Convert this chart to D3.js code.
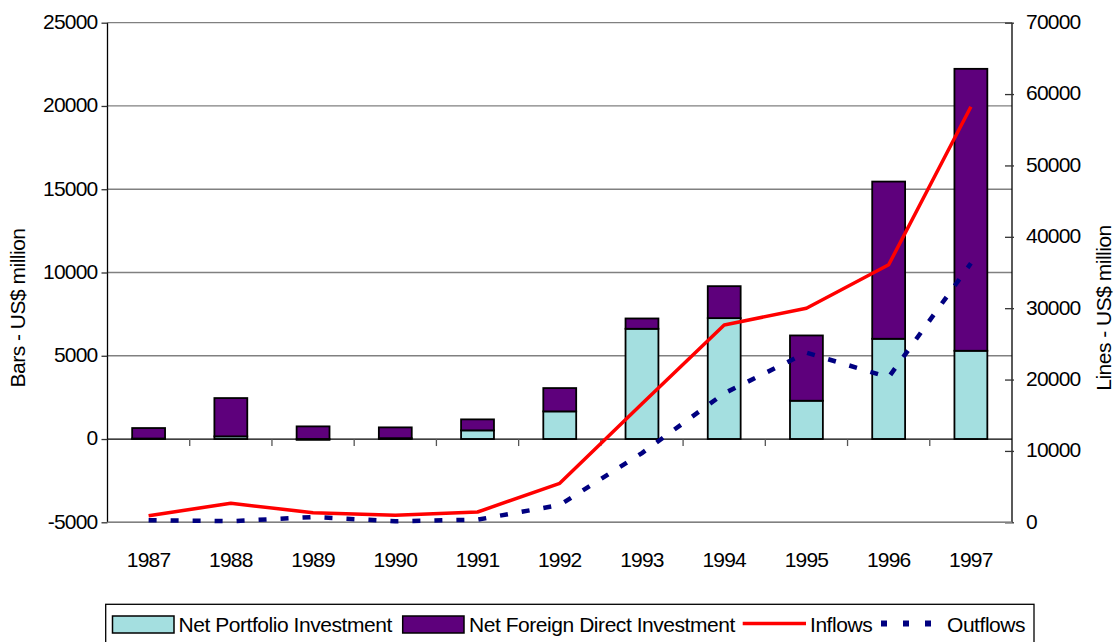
<!DOCTYPE html>
<html>
<head>
<meta charset="utf-8">
<script src="https://cdn.jsdelivr.net/npm/d3@7"></script>
<style>
  body { margin: 0; background: #fff; }
  svg text { font-family: "Liberation Sans", Arial, sans-serif; fill: #000; }
</style>
</head>
<body>
<div id="chart"></div>
<script>
// data (US$ million)
const years = ["1987", "1988", "1989", "1990", "1991", "1992", "1993", "1994", "1995", "1996", "1997"];
const portfolio = [30, 160, -50, 50, 520, 1660, 6620, 7260, 2300, 6020, 5300];
const fdi = [630, 2300, 760, 650, 660, 1400, 620, 1920, 3920, 9440, 16930];
const inflows = [930, 2660, 1350, 980, 1440, 5460, 16600, 27640, 30000, 36080, 58230];
const outflows = [300, 150, 740, 150, 370, 2420, 9700, 18070, 23760, 20320, 36290];
const leftTicks = [-5000, 0, 5000, 10000, 15000, 20000, 25000];
const rightTicks = [0, 10000, 20000, 30000, 40000, 50000, 60000, 70000];

const W = 1120, H = 642;
const margin = {top: 22.7, right: 108, bottom: 119.7, left: 107.5};
const width = W - margin.left - margin.right;
const height = H - margin.top - margin.bottom;

const cyan = "#a4dfe0", purple = "#5e007c", red = "#ff0000", navy = "#000080";

const svg = d3.select("#chart").append("svg")
  .attr("width", W).attr("height", H);

const g = svg.append("g")
  .attr("transform", "translate(" + margin.left + "," + margin.top + ")");

const x = d3.scaleBand().domain(years).range([0, width]).padding(0);
const yL = d3.scaleLinear().domain([-5000, 25000]).range([height, 0]);
const yR = d3.scaleLinear().domain([0, 70000]).range([height, 0]);
const barW = x.bandwidth() * 0.4;
const plainNum = d => String(d);

// gridlines
g.append("g").selectAll("line")
  .data(leftTicks.filter(d => d !== 0))
  .join("line")
  .attr("x1", 0).attr("x2", width)
  .attr("y1", d => yL(d)).attr("y2", d => yL(d))
  .attr("stroke", "#808080").attr("stroke-width", 1.3);

// stacked bars
const rows = years.map((yr, i) => ({year: yr, portfolio: portfolio[i], fdi: fdi[i]}));
const stack = d3.stack().keys(["portfolio", "fdi"]).offset(d3.stackOffsetDiverging);
const series = stack(rows);
const colors = {portfolio: cyan, fdi: purple};

g.append("g").selectAll("g")
  .data(series)
  .join("g")
  .attr("fill", d => colors[d.key])
  .selectAll("rect")
  .data(d => d)
  .join("rect")
  .attr("x", d => x(d.data.year) + (x.bandwidth() - barW) / 2)
  .attr("width", barW)
  .attr("y", d => yL(Math.max(d[0], d[1])))
  .attr("height", d => Math.abs(yL(d[0]) - yL(d[1])))
  .attr("stroke", "#000").attr("stroke-width", 1.8);

// zero line with category ticks
g.append("line")
  .attr("x1", 0).attr("x2", width)
  .attr("y1", yL(0)).attr("y2", yL(0))
  .attr("stroke", "#000").attr("stroke-width", 1.3);

g.append("g").selectAll("line")
  .data(d3.range(1, years.length))
  .join("line")
  .attr("x1", i => i * x.step()).attr("x2", i => i * x.step())
  .attr("y1", yL(0)).attr("y2", yL(0) + 7)
  .attr("stroke", "#555").attr("stroke-width", 1.3);

// year labels
g.append("g").selectAll("text")
  .data(years)
  .join("text")
  .attr("x", d => x(d) + x.bandwidth() / 2)
  .attr("y", height + 45)
  .attr("text-anchor", "middle")
  .style("font-size", "21px").style("letter-spacing", "-0.8px")
  .text(d => d);

// left axis
const leftAxis = g.append("g")
  .call(d3.axisLeft(yL).tickValues(leftTicks).tickSize(6).tickPadding(4).tickFormat(plainNum));
leftAxis.select(".domain").attr("stroke", "#000").attr("stroke-width", 1.3).attr("d", "M0,0V" + height);
leftAxis.selectAll(".tick line").attr("stroke", "#333").attr("stroke-width", 1.3);
leftAxis.selectAll("text").style("font-size", "21px").style("letter-spacing", "-0.8px").attr("dy", "0.28em");
leftAxis.attr("font-family", null).attr("font-size", null);

// right axis
const rightAxis = g.append("g")
  .attr("transform", "translate(" + width + ",0)")
  .call(d3.axisRight(yR).tickValues(rightTicks).tickSize(2).tickPadding(12).tickFormat(plainNum));
rightAxis.select(".domain").attr("stroke", "#000").attr("stroke-width", 1.3).attr("d", "M0,0V" + height);
rightAxis.selectAll(".tick line").attr("x1", -7).attr("stroke", "#333").attr("stroke-width", 1.3);
rightAxis.selectAll("text").style("font-size", "21px").style("letter-spacing", "-0.8px").attr("dy", "0.28em");
rightAxis.attr("font-family", null).attr("font-size", null);

// bottom border (gray)
g.append("line")
  .attr("x1", 0).attr("x2", width)
  .attr("y1", height).attr("y2", height)
  .attr("stroke", "#808080").attr("stroke-width", 1.5);

// lines
const lineR = d3.line()
  .x((d, i) => x(years[i]) + x.bandwidth() / 2)
  .y(d => yR(d));

g.append("path")
  .datum(outflows)
  .attr("fill", "none")
  .attr("stroke", navy).attr("stroke-width", 4.5)
  .attr("stroke-dasharray", "8,14")
  .attr("d", lineR);

g.append("path")
  .datum(inflows)
  .attr("fill", "none")
  .attr("stroke", red).attr("stroke-width", 3.5)
  .attr("stroke-linejoin", "round")
  .attr("d", lineR);

// axis titles
svg.append("text")
  .attr("transform", "translate(25,308) rotate(-90)")
  .attr("text-anchor", "middle")
  .style("font-size", "21px").style("letter-spacing", "-0.5px")
  .text("Bars - US$ million");

svg.append("text")
  .attr("transform", "translate(1111,308) rotate(-90)")
  .attr("text-anchor", "middle")
  .style("font-size", "21px").style("letter-spacing", "-0.5px")
  .text("Lines - US$ million");

// legend
const legend = svg.append("g");
legend.append("rect")
  .attr("x", 105.7).attr("y", 604.3).attr("width", 928.3).attr("height", 50)
  .attr("fill", "#fff").attr("stroke", "#000").attr("stroke-width", 1.3);

const legendItems = [
  {label: "Net Portfolio Investment", type: "rect", color: cyan, x0: 112.5, x1: 174, tx: 178.5},
  {label: "Net Foreign Direct Investment", type: "rect", color: purple, x0: 402.7, x1: 464, tx: 469},
  {label: "Inflows", type: "line", color: red, x0: 742.7, x1: 806, tx: 810},
  {label: "Outflows", type: "dash", color: navy, x0: 881, x1: 933, tx: 947}
];

legendItems.forEach(item => {
  if (item.type === "rect") {
    legend.append("rect")
      .attr("x", item.x0).attr("y", 616)
      .attr("width", item.x1 - item.x0).attr("height", 17)
      .attr("fill", item.color).attr("stroke", "#000").attr("stroke-width", 1.5);
  } else if (item.type === "line") {
    legend.append("line")
      .attr("x1", item.x0).attr("x2", item.x1).attr("y1", 623.5).attr("y2", 623.5)
      .attr("stroke", item.color).attr("stroke-width", 3.5);
  } else {
    legend.append("line")
      .attr("x1", item.x0).attr("x2", item.x1).attr("y1", 623.5).attr("y2", 623.5)
      .attr("stroke", item.color).attr("stroke-width", 6)
      .attr("stroke-dasharray", "6,16");
  }
  legend.append("text")
    .attr("x", item.tx).attr("y", 631.5)
    .style("font-size", "21px").style("letter-spacing", "-0.45px")
    .text(item.label);
});
</script>
</body>
</html>
